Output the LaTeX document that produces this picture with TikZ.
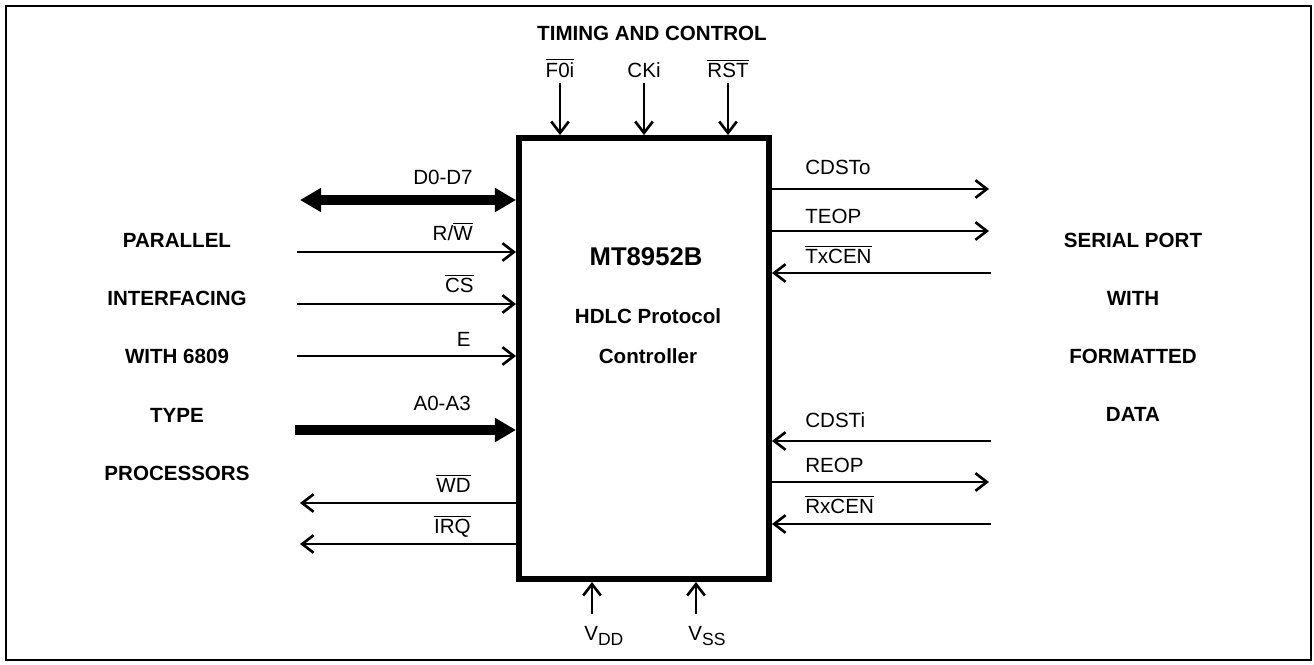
\documentclass[tikz,border=0pt]{standalone}
\usepackage{fontspec}
\setmainfont{Liberation Sans}
\usetikzlibrary{arrows.meta}

% segnale negato (barra sopra)
\newcommand{\negato}[1]{$\overline{\mbox{#1}}$}
% pedice delle alimentazioni
\newcommand{\pedice}[1]{\raisebox{-3pt}{\fontsize{10}{12}\selectfont #1}}

\begin{document}
\begin{tikzpicture}[x=0.02cm, y=-0.02cm, line width=1.5pt,
    sig/.style={-{Straight Barb[length=6.5pt,width=10pt]}},
    bus/.style={line width=5.6pt, -{Triangle[length=12pt,width=13pt]}},
    lab/.style={font=\fontsize{11.7}{14}\selectfont, inner sep=0pt},
    titolo/.style={font=\fontsize{11.7}{14}\selectfont\bfseries, inner sep=0pt}]

    \useasboundingbox (0,0) rectangle (1314,664);

    % Cornice esterna
    \draw[line width=1.3pt] (6,6) rectangle (1311,660);

    % -- Chip centrale --
    \node[draw, line width=3.4pt, minimum width=5cm, minimum height=8.82cm,
          inner sep=0pt] (chip) at (644,358.5) {};
    \node[titolo, font=\fontsize{14.6}{17}\selectfont\bfseries, anchor=base]
        (nome) at (646,265) {MT8952B};
    \node[titolo, anchor=base] (desc1) at (648,323) {HDLC Protocol};
    \node[titolo, anchor=base] (desc2) at (648,363) {Controller};

    % -- Parte Superiore: temporizzazione --
    \node[titolo, anchor=base] (tc) at (652,40) {TIMING AND CONTROL};

    \coordinate (f0) at (560,83);
    \coordinate (ck) at (644,83);
    \coordinate (rst) at (728,83);
    \draw[sig] (f0) -- (f0 |- chip.north);
    \draw[sig] (ck) -- (ck |- chip.north);
    \draw[sig] (rst) -- (rst |- chip.north);
    \node[lab, anchor=base] (lf0) at (560,77) {\negato{F0i}};
    \node[lab, anchor=base] (lck) at (644,77) {CKi};
    \node[lab, anchor=base] (lrst) at (728,77) {\negato{RST}};

    % -- Parte Sinistra: interfaccia parallela --
    \node[titolo, anchor=base] (p1) at (177,247) {PARALLEL};
    \node[titolo, anchor=base] (p2) at (177,305) {INTERFACING};
    \node[titolo, anchor=base] (p3) at (177,363) {WITH 6809};
    \node[titolo, anchor=base] (p4) at (177,422) {TYPE};
    \node[titolo, anchor=base] (p5) at (177,480) {PROCESSORS};

    \coordinate (dd) at (300,200);
    \coordinate (rw) at (297,252);
    \coordinate (cs) at (297,304);
    \coordinate (en) at (297,356);
    \coordinate (aa) at (295,430);
    \coordinate (wd) at (300,503);
    \coordinate (irq) at (300,544);

    \draw[bus, {Triangle[length=12pt,width=13pt]}-{Triangle[length=12pt,width=13pt]}]
        (dd) -- (dd -| chip.west);
    \draw[sig] (rw) -- (rw -| chip.west);
    \draw[sig] (cs) -- (cs -| chip.west);
    \draw[sig] (en) -- (en -| chip.west);
    \draw[bus] (aa) -- (aa -| chip.west);
    \draw[sig] (wd -| chip.west) -- (wd);
    \draw[sig] (irq -| chip.west) -- (irq);

    \node[lab, anchor=base east] (ldd) at (474,184) {D0-D7};
    \node[lab, anchor=base east] (lrw) at (474,240) {R/\negato{W}};
    \node[lab, anchor=base east] (lcs) at (475,292) {\negato{CS}};
    \node[lab, anchor=base east] (len) at (472,346) {E};
    \node[lab, anchor=base east] (laa) at (472,410) {A0-A3};
    \node[lab, anchor=base east] (lwd) at (472,492) {\negato{WD}};
    \node[lab, anchor=base east] (lirq) at (472,533) {\negato{IRQ}};

    % -- Parte Destra: porta seriale --
    \node[titolo, anchor=base] (s1) at (1133,247) {SERIAL PORT};
    \node[titolo, anchor=base] (s2) at (1133,305) {WITH};
    \node[titolo, anchor=base] (s3) at (1133,363) {FORMATTED};
    \node[titolo, anchor=base] (s4) at (1133,421) {DATA};

    \coordinate (cdo) at (989,189);
    \coordinate (teop) at (989,231);
    \coordinate (txc) at (991,273);
    \coordinate (cdi) at (991,441);
    \coordinate (reop) at (989,482);
    \coordinate (rxc) at (991,524);

    \draw[sig] (cdo -| chip.east) -- (cdo);
    \draw[sig] (teop -| chip.east) -- (teop);
    \draw[sig] (txc) -- (txc -| chip.east);
    \draw[sig] (cdi) -- (cdi -| chip.east);
    \draw[sig] (reop -| chip.east) -- (reop);
    \draw[sig] (rxc) -- (rxc -| chip.east);

    \node[lab, anchor=base west] (lcdo) at (804,174) {CDSTo};
    \node[lab, anchor=base west] (lteop) at (804,223) {TEOP};
    \node[lab, anchor=base west] (ltxc) at (804,263) {\negato{TxCEN}};
    \node[lab, anchor=base west] (lcdi) at (804,427) {CDSTi};
    \node[lab, anchor=base west] (lreop) at (804,472) {REOP};
    \node[lab, anchor=base west] (lrxc) at (804,513) {\negato{RxCEN}};

    % -- Parte Inferiore: alimentazione --
    \coordinate (vdd) at (592,614);
    \coordinate (vss) at (696,614);
    \draw[sig] (vdd) -- (vdd |- chip.south);
    \draw[sig] (vss) -- (vss |- chip.south);
    \node[lab, anchor=base west] (lvdd) at (583,640) {V\pedice{DD}};
    \node[lab, anchor=base west] (lvss) at (687,640) {V\pedice{SS}};
\end{tikzpicture}
\end{document}
